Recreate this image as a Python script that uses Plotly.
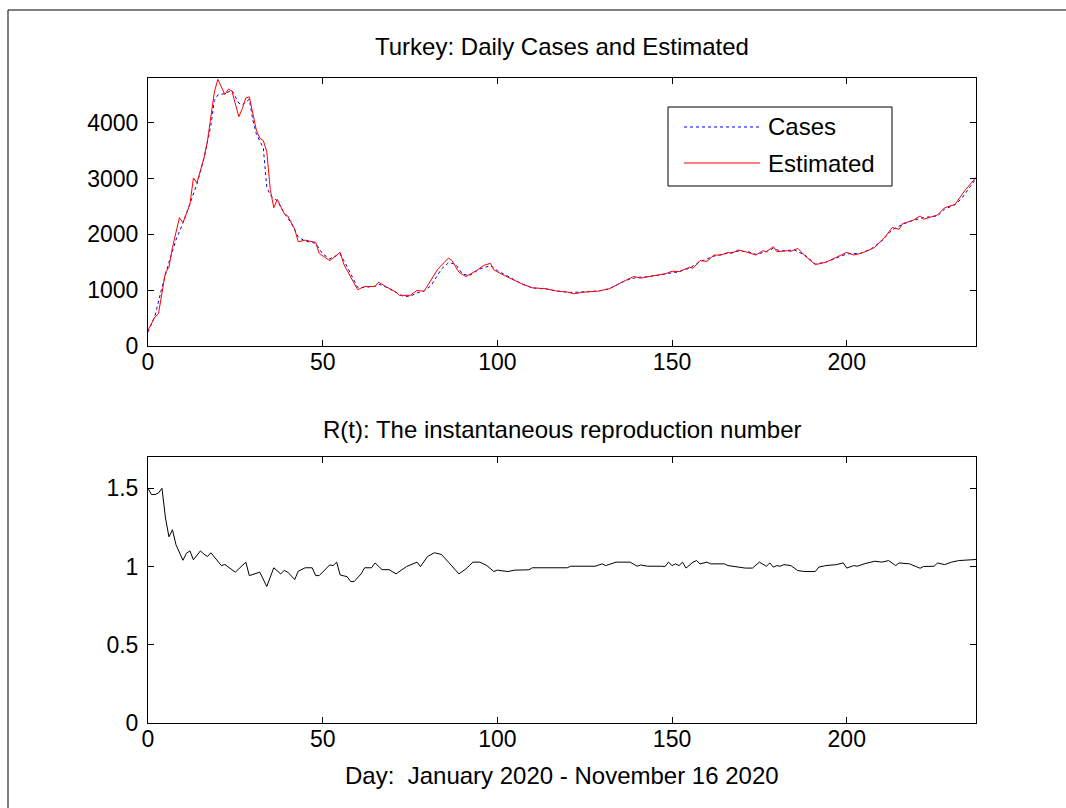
import plotly.graph_objects as go

# ---------------- data ----------------
est_day = [0, 2, 3, 5, 6, 7, 9, 10, 12, 13, 14, 16, 17, 19, 20, 22, 23, 24, 26, 27, 28, 29,
           31, 32, 33, 34, 35, 36, 37, 39, 40, 42, 43, 45, 48, 49, 52, 54, 55, 56, 60, 62,
           65, 66, 68, 71, 72, 75, 77, 79, 80, 83, 86, 87, 89, 91, 94, 96, 98, 99, 102, 107,
           110, 114, 117, 120, 122, 124, 129, 132, 137, 139, 141, 143, 144, 148, 150, 152,
           155, 156, 158, 160, 162, 164, 166, 167, 169, 171, 174, 176, 177, 179, 180, 183,
           184, 186, 188, 191, 194, 197, 198, 200, 202, 204, 206, 208, 210, 211, 213, 215,
           216, 219, 221, 222, 226, 228, 231, 232, 234, 237]
est_val = [285, 520, 580, 1320, 1410, 1765, 2299, 2210, 2536, 3010, 2921, 3365, 3662, 4551,
           4776, 4504, 4599, 4570, 4107, 4255, 4444, 4462, 3870, 3721, 3680, 3484, 2803, 2476,
           2626, 2370, 2329, 2092, 1867, 1896, 1855, 1659, 1529, 1635, 1677, 1470, 1008, 1066,
           1066, 1144, 1066, 966, 907, 907, 995, 980, 1084, 1381, 1576, 1529, 1321, 1244, 1351,
           1440, 1481, 1363, 1262, 1114, 1043, 1025, 984, 966, 935, 960, 984, 1025, 1185, 1244,
           1215, 1244, 1250, 1292, 1339, 1333, 1410, 1392, 1529, 1517, 1629, 1629, 1677, 1659,
           1718, 1689, 1629, 1707, 1689, 1778, 1689, 1707, 1695, 1748, 1618, 1458, 1499, 1588,
           1618, 1677, 1629, 1659, 1707, 1766, 1896, 1956, 2121, 2091, 2192, 2252, 2329, 2270,
           2347, 2476, 2536, 2625, 2800, 3020]

cases_day = [0, 2, 4, 6, 8, 10, 12, 14, 16, 18, 19, 20, 22, 24, 26, 27, 29, 30, 31, 33, 34,
             35, 37, 39, 41, 43, 45, 48, 50, 52, 54, 55, 57, 60, 62, 65, 66, 68, 71, 73, 75,
             77, 79, 81, 84, 86, 88, 90, 92, 95, 98, 100, 103, 107, 110, 114, 117, 121, 125,
             129, 132, 137, 140, 143, 148, 152, 155, 158, 162, 166, 169, 172, 174, 177, 179,
             181, 185, 188, 191, 194, 197, 200, 204, 207, 210, 213, 216, 219, 222, 226, 228,
             231, 233, 237]
cases_val = [250, 540, 1050, 1500, 1900, 2200, 2550, 2900, 3350, 3950, 4400, 4500, 4520, 4580,
             4350, 4320, 4420, 4050, 3800, 3550, 2850, 2700, 2600, 2380, 2200, 1950, 1880, 1840,
             1650, 1560, 1620, 1650, 1420, 1050, 1050, 1070, 1110, 1060, 960, 890, 890, 950, 985,
             1080, 1380, 1490, 1470, 1290, 1260, 1380, 1440, 1350, 1250, 1110, 1040, 1020, 985,
             960, 970, 985, 1025, 1180, 1230, 1240, 1290, 1330, 1395, 1510, 1610, 1665, 1700,
             1685, 1640, 1690, 1750, 1700, 1720, 1630, 1470, 1500, 1580, 1650, 1660, 1740, 1880,
             2080, 2180, 2250, 2300, 2330, 2450, 2530, 2650, 3000]

r_day = [0, 1, 2, 3, 4, 5, 6, 7, 8, 10, 11, 12, 13, 15, 16, 17, 18, 19, 21, 22, 24, 25, 28,
         29, 32, 34, 36, 38, 39, 40, 42, 43, 45, 47, 48, 49, 52, 53, 54, 55, 57, 58, 59, 61,
         62, 64, 65, 67, 69, 71, 74, 77, 78, 80, 82, 84, 86, 88, 89, 91, 93, 95, 97, 99, 100,
         103, 105, 109, 110, 120, 121, 128, 130, 131, 134, 138, 140, 141, 143, 147, 148, 149,
         150, 151, 152, 153, 154, 156, 157, 158, 160, 161, 165, 166, 169, 171, 173, 175, 177,
         178, 179, 180, 181, 182, 184, 186, 188, 191, 192, 194, 197, 199, 200, 202, 203, 205,
         208, 210, 212, 214, 215, 217, 218, 221, 222, 225, 226, 228, 230, 232, 237]
r_val = [1.50, 1.46, 1.46, 1.47, 1.50, 1.31, 1.19, 1.235, 1.14, 1.04, 1.085, 1.10, 1.043,
         1.10, 1.08, 1.064, 1.088, 1.06, 1.006, 1.013, 0.98, 0.964, 1.028, 0.942, 0.964, 0.872,
         0.992, 0.953, 0.975, 0.964, 0.917, 0.97, 0.992, 0.992, 0.942, 0.942, 1.01, 1.006,
         1.028, 0.946, 0.935, 0.904, 0.904, 0.953, 0.992, 0.992, 1.023, 0.98, 0.98, 0.953, 1.0,
         1.028, 1.0, 1.064, 1.088, 1.077, 1.028, 0.979, 0.953, 0.985, 1.028, 1.028, 1.006,
         0.968, 0.977, 0.968, 0.977, 0.979, 0.992, 0.992, 1.002, 1.002, 1.017, 1.006, 1.028,
         1.028, 1.002, 1.01, 1.002, 1.002, 1.0, 1.028, 1.006, 1.017, 1.006, 1.028, 0.99, 1.028,
         1.038, 1.017, 1.028, 1.017, 1.017, 1.006, 0.996, 0.99, 0.99, 1.028, 1.002, 1.023,
         0.996, 1.006, 1.002, 1.012, 1.006, 0.974, 0.968, 0.968, 0.996, 1.006, 1.012, 1.023,
         0.99, 1.006, 1.002, 1.017, 1.034, 1.028, 1.038, 1.006, 1.023, 1.017, 1.017, 0.989,
         1.0, 1.002, 1.023, 1.012, 1.028, 1.038, 1.045]

x_ticks = [0, 50, 100, 150, 200]
top_y_ticks = [0, 1000, 2000, 3000, 4000]
bot_y_ticks = [0, 0.5, 1, 1.5]
bot_y_labels = ["0", "0.5", "1", "1.5"]

top_title = "Turkey: Daily Cases and Estimated"
bot_title = "R(t): The instantaneous reproduction number"
x_title = "Day:  January 2020 - November 16 2020"
legend_names = ["Cases", "Estimated"]

# ---------------- layout geometry (pixels) ----------------
W, H = 1066, 808
L, R, T, B = 148, 90, 78, 85
PW, PH = W - L - R, H - T - B


def px(X):
    return (X - L) / PW


def py(Y):
    return (H - B - Y) / PH


FONT = "Liberation Sans, Arial, sans-serif"
FS = 23

fig = go.Figure()
fig.add_trace(go.Scatter(x=cases_day, y=cases_val, mode="lines", name=legend_names[0],
                         line=dict(color="#0000ff", width=1, dash="dot"),
                         xaxis="x", yaxis="y", showlegend=False))
fig.add_trace(go.Scatter(x=est_day, y=est_val, mode="lines", name=legend_names[1],
                         line=dict(color="#ff0000", width=1),
                         xaxis="x", yaxis="y", showlegend=False))
fig.add_trace(go.Scatter(x=r_day, y=r_val, mode="lines", name="R(t)",
                         line=dict(color="black", width=1),
                         xaxis="x2", yaxis="y2", showlegend=False))

axis_common = dict(showline=True, linecolor="black", linewidth=1, mirror="ticks",
                   ticks="inside", ticklen=6, tickcolor="black", tickwidth=1,
                   showgrid=False, zeroline=False,
                   tickfont=dict(family=FONT, size=FS, color="black"))

top_dom = [py(346), 1.0]
bot_dom = [0.0, py(457)]

fig.update_layout(
    width=W, height=H,
    margin=dict(l=L, r=R, t=T, b=B),
    paper_bgcolor="white", plot_bgcolor="white",
    font=dict(family=FONT, size=FS, color="black"),
    xaxis=dict(axis_common, range=[0, 237], tickvals=x_ticks, anchor="y",
               ticklabelstandoff=-5),
    yaxis=dict(axis_common, range=[0, 4800], tickvals=top_y_ticks, domain=top_dom,
               anchor="x", ticklabelstandoff=4),
    xaxis2=dict(axis_common, range=[0, 237], tickvals=x_ticks, anchor="y2",
                ticklabelstandoff=-5),
    yaxis2=dict(axis_common, range=[0, 1.7], tickvals=bot_y_ticks, ticktext=bot_y_labels,
                domain=bot_dom, anchor="x2", ticklabelstandoff=4),
)

ann = [
    dict(text=top_title, x=0.5, y=py(47)),
    dict(text=bot_title, x=0.5, y=py(429)),
    dict(text=x_title, x=0.5, y=py(775)),
]
annotations = []
for a in ann:
    annotations.append(dict(text=a["text"], x=a["x"], y=a["y"], xref="paper", yref="paper",
                            xanchor="center", yanchor="middle", showarrow=False,
                            font=dict(family=FONT, size=FS + 1, color="black")))

# manual legend (MATLAB style)
for name, Yc in zip(legend_names, [127, 163]):
    annotations.append(dict(text=name, x=px(766), y=py(Yc), xref="paper", yref="paper",
                            xanchor="left", yanchor="middle", showarrow=False,
                            font=dict(family=FONT, size=FS + 1, color="black")))

shapes = [
    # figure frame (top and left edges visible)
    dict(type="line", xref="paper", yref="paper", x0=px(8), x1=px(1070), y0=py(10), y1=py(10),
         line=dict(color="black", width=1)),
    dict(type="line", xref="paper", yref="paper", x0=px(8), x1=px(8), y0=py(10), y1=py(812),
         line=dict(color="black", width=1)),
    # legend box
    dict(type="rect", xref="paper", yref="paper", x0=px(668), x1=px(892), y0=py(186),
         y1=py(107), line=dict(color="black", width=1), fillcolor="white", layer="above"),
    dict(type="line", xref="paper", yref="paper", x0=px(684), x1=px(760), y0=py(127),
         y1=py(127), line=dict(color="#0000ff", width=1, dash="dot")),
    dict(type="line", xref="paper", yref="paper", x0=px(684), x1=px(760), y0=py(163),
         y1=py(163), line=dict(color="#ff0000", width=1)),
]
fig.update_layout(annotations=annotations, shapes=shapes)

fig.write_html("out.html")
